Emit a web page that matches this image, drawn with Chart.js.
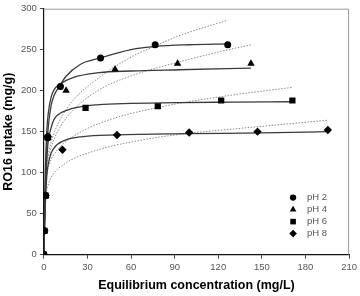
<!DOCTYPE html>
<html>
<head>
<meta charset="utf-8">
<script src="https://cdn.jsdelivr.net/npm/chart.js@4/dist/chart.umd.min.js"></script>
<style>
  html, body { margin: 0; padding: 0; background: #fff; }
  #wrap { width: 360px; height: 296px; }
</style>
</head>
<body>
<div id="wrap"><canvas id="chart"></canvas></div>
<script>
// measured points (Ce, qe)
var ph2X = [0, 0.4, 1.2, 2.7, 11.4, 39, 76.6, 126.5];
var ph2Y = [0, 29, 72, 143, 205, 240, 256, 256];
var ph4X = [0, 0.4, 1.2, 2.7, 15.3, 49, 92, 142.5];
var ph4Y = [0, 29, 72, 143, 200, 226, 233, 233];
var ph6X = [0, 0.4, 1.2, 2.7, 28.7, 78.4, 122, 171];
var ph6Y = [0, 29, 72, 143, 179, 181, 188, 188];
var ph8X = [0, 0.4, 1.2, 2.7, 12.8, 50.3, 100, 147, 195.4];
var ph8Y = [0, 29, 72, 144, 128, 146, 149, 150, 152];

// solid fitted curves
var solid2X = [0, 1, 2, 3, 5, 7, 11, 15, 25, 39, 60, 77, 100, 126.5];
var solid2Y = [0, 80, 128, 155, 182, 194, 206, 217, 232, 240, 250, 254, 256, 257];
var solid4X = [0, 1, 2, 3, 5, 7, 11, 20, 38, 60, 93, 142.5];
var solid4Y = [0, 100, 150, 172, 192, 201, 208, 216, 222, 224, 225.5, 227.5];
var solid6X = [0, 1, 2, 3, 5, 7, 10, 19, 38, 60, 93, 130, 171];
var solid6Y = [0, 75, 115, 138, 155, 165, 171, 178, 183, 184.5, 185.5, 186, 186.5];
var solid8X = [0, 1, 2, 4, 7, 14, 27, 50, 100, 150, 195.4];
var solid8Y = [0, 60, 95, 118, 130, 139, 144, 146, 147.5, 148.5, 150];

// dotted fitted curves
var dot2X = [1, 2, 5, 11, 20, 38, 60, 76, 93, 126.5];
var dot2Y = [96, 112, 137, 164, 188, 216, 241, 254, 267, 286];
var dot4X = [1, 2, 5, 11, 20, 38, 60, 93, 127, 143];
var dot4Y = [95, 109, 131, 155, 176, 201, 218, 235, 250, 256];
var dot6X = [1, 2, 5, 10, 20, 41, 80, 127, 171];
var dot6Y = [89, 99, 116, 129, 144, 162, 180, 194, 204];
var dot8X = [1, 2.3, 5, 13.7, 34, 68, 100, 123, 195.6];
var dot8Y = [70, 81, 94, 110, 126, 140, 148, 152, 164];

var seriesNames = ["pH 2", "pH 4", "pH 6", "pH 8"];
var xTicks = [0, 30, 60, 90, 120, 150, 180, 210];
var yTicks = [0, 50, 100, 150, 200, 250, 300];

var FONT = "'Liberation Sans', Arial, sans-serif";

function pts(xs, ys) {
  return xs.map(function (x, i) { return { x: x, y: ys[i] }; });
}

function markers(label, xs, ys, style, r) {
  return {
    label: label, data: pts(xs, ys), showLine: false,
    pointStyle: style, pointRadius: r, pointHoverRadius: r,
    backgroundColor: "#000", borderColor: "#000", borderWidth: 0,
  };
}

function curve(xs, ys, dotted) {
  return {
    label: "", data: pts(xs, ys), showLine: true, pointRadius: 0,
    borderColor: dotted ? "#8a8a8a" : "#3a3a3a",
    borderWidth: dotted ? 1 : 1.3,
    borderDash: dotted ? [1.5, 1.5] : [],
    cubicInterpolationMode: "monotone",
    fill: false,
  };
}

var datasets = [
  markers(seriesNames[0], ph2X, ph2Y, "circle", 3.5),
  markers(seriesNames[1], ph4X, ph4Y, "triangle", 4.3),
  markers(seriesNames[2], ph6X, ph6Y, "rect", 4.4),
  markers(seriesNames[3], ph8X, ph8Y, "rectRot", 4.2),
  curve(solid2X, solid2Y, false),
  curve(solid4X, solid4Y, false),
  curve(solid6X, solid6Y, false),
  curve(solid8X, solid8Y, false),
  curve(dot2X, dot2Y, true),
  curve(dot4X, dot4Y, true),
  curve(dot6X, dot6Y, true),
  curve(dot8X, dot8Y, true),
];

// box around the plot + legend in the lower right corner
var framePlugin = {
  id: "frame",
  beforeDatasetsDraw: function (chart) {
    var a = chart.chartArea, ctx = chart.ctx;
    ctx.save();
    ctx.strokeStyle = "#9a9a9a";
    ctx.lineWidth = 1;
    ctx.beginPath();
    ctx.moveTo(a.left, a.top + 0.5);
    ctx.lineTo(a.right - 0.5, a.top + 0.5);
    ctx.lineTo(a.right - 0.5, a.bottom);
    ctx.stroke();
    ctx.restore();
  },
  afterDatasetsDraw: function (chart) {
    var a = chart.chartArea, ctx = chart.ctx;
    ctx.save();
    ctx.font = "9.5px " + FONT;
    ctx.textBaseline = "middle";
    for (var i = 0; i < 4; i++) {
      var ds = chart.data.datasets[i];
      var mx = a.right - 56, my = a.bottom - 57 + i * 12;
      ctx.fillStyle = "#000";
      ctx.strokeStyle = "#000";
      Chart.helpers.drawPoint(ctx, {
        pointStyle: ds.pointStyle, radius: ds.pointRadius * 0.9,
        borderWidth: 0, rotation: 0,
      }, mx, my);
      ctx.fillStyle = "#555";
      ctx.fillText(ds.label, mx + 14, my);
    }
    ctx.restore();
  },
};

new Chart(document.getElementById("chart"), {
  type: "scatter",
  data: { datasets: datasets },
  plugins: [framePlugin],
  options: {
    responsive: true,
    maintainAspectRatio: false,
    animation: false,
    layout: { padding: { top: 1, right: 8, left: 0, bottom: 3 } },
    plugins: { legend: { display: false }, tooltip: { enabled: false } },
    scales: {
      x: {
        type: "linear", min: 0, max: 210,
        afterBuildTicks: function (s) { s.ticks = xTicks.map(function (v) { return { value: v }; }); },
        border: { color: "#111", width: 1.2 },
        grid: { drawOnChartArea: false, drawTicks: true, tickLength: 4, color: "#444" },
        ticks: { color: "#555", padding: 3, font: { size: 9.5, family: FONT } },
        title: { display: true, text: "Equilibrium concentration (mg/L)", color: "#000",
                 padding: { top: 2, bottom: 0 }, font: { size: 12.5, weight: "bold", family: FONT } },
      },
      y: {
        type: "linear", min: 0, max: 300,
        afterBuildTicks: function (s) { s.ticks = yTicks.map(function (v) { return { value: v }; }); },
        border: { color: "#111", width: 1.2 },
        grid: { drawOnChartArea: false, drawTicks: true, tickLength: 4, color: "#444" },
        ticks: { color: "#555", padding: 3, font: { size: 9.5, family: FONT } },
        title: { display: true, text: "RO16 uptake (mg/g)", color: "#000",
                 padding: { top: 1, bottom: 2 }, font: { size: 12.5, weight: "bold", family: FONT } },
      },
    },
  },
});
</script>
</body>
</html>
